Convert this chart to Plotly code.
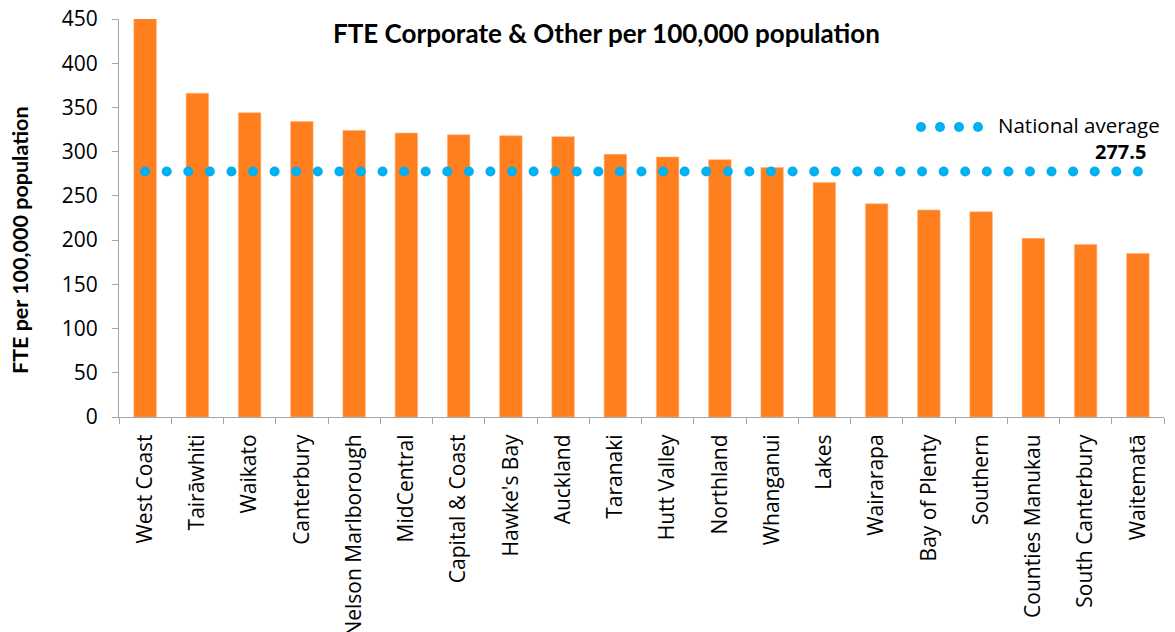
import numpy as np
import plotly.graph_objects as go

categories = ["West Coast", "Tairāwhiti", "Waikato", "Canterbury", "Nelson Marlborough",
              "MidCentral", "Capital & Coast", "Hawke's Bay", "Auckland", "Taranaki",
              "Hutt Valley", "Northland", "Whanganui", "Lakes", "Wairarapa",
              "Bay of Plenty", "Southern", "Counties Manukau", "South Canterbury", "Waitematā"]
fte_values = [470, 366, 344, 334, 324, 321, 319, 318, 317, 297,
              294, 291, 282, 265, 241, 234, 232, 202, 195, 185]
national_average = 277.5
y_ticks = [0, 50, 100, 150, 200, 250, 300, 350, 400, 450]

FONT = "Open Sans"
TITLE_FONT = "Lato"
BAR_COLOR = "#FF7F1E"
DOT_COLOR = "#00B0F0"
AXIS_COLOR = "#A6A6A6"

W, H = 1175, 632
PLOT_L, PLOT_R, PLOT_T, PLOT_B = 119, 1164, 19, 417  # target window pixels
ML, MR, MT, MB = PLOT_L, W - PLOT_R, PLOT_T, H - PLOT_B
PW, PH = W - ML - MR, H - MT - MB


def px_x(x):
    return (x - ML) / PW


def px_y(y):
    return (H - MB - y) / PH


n = len(categories)
dot_x = np.linspace(0, n - 1, 47)

fig = go.Figure()
fig.add_trace(go.Bar(
    x=categories, y=fte_values,
    marker=dict(color=BAR_COLOR, line=dict(color="#FFB27A", width=0.6)),
    showlegend=False, cliponaxis=True,
))
fig.add_trace(go.Scatter(
    x=dot_x, y=[national_average] * len(dot_x), xaxis="x2", mode="markers",
    marker=dict(color=DOT_COLOR, size=10, symbol="circle"),
    name="National average", showlegend=False,
))

legend_shapes = [
    dict(type="circle", xref="paper", yref="paper", xsizemode="pixel", ysizemode="pixel",
         xanchor=px_x(921 + 19 * i), yanchor=px_y(127), x0=-5, x1=5, y0=-5, y1=5,
         fillcolor=DOT_COLOR, line=dict(width=0))
    for i in range(4)
]

fig.update_layout(
    width=W, height=H,
    margin=dict(l=ML, r=MR, t=MT, b=MB),
    paper_bgcolor="white", plot_bgcolor="white",
    bargap=0.57,
    font=dict(family=FONT, color="#000000"),
    xaxis=dict(
        type="category", categoryorder="array", categoryarray=categories,
        range=[-0.5, n - 0.5], automargin=False,
        showline=True, linecolor=AXIS_COLOR, linewidth=1,
        ticks="outside", tickson="boundaries", ticklen=6, tickcolor=AXIS_COLOR,
        tickangle=-90, tickfont=dict(family=FONT, size=21, color="#000000"),
        ticklabelstandoff=8, ticklabeloverflow="allow",
        showgrid=False, zeroline=False,
    ),
    xaxis2=dict(
        overlaying="x", range=[-0.5, n - 0.5], visible=False, showgrid=False, zeroline=False,
    ),
    yaxis=dict(
        range=[0, 450], tickvals=y_ticks, automargin=False,
        showline=True, linecolor=AXIS_COLOR, linewidth=1,
        ticks="outside", ticklen=6, tickcolor=AXIS_COLOR,
        tickfont=dict(family=FONT, size=21, color="#000000"),
        ticklabelstandoff=10, ticklabeloverflow="allow",
        showgrid=False, zeroline=False,
    ),
    shapes=legend_shapes,
    annotations=[
        dict(text="<b>FTE Corporate & Other per 100,000 population</b>",
             xref="paper", yref="paper", x=px_x(606), y=px_y(33),
             xanchor="center", yanchor="middle", showarrow=False,
             font=dict(family=TITLE_FONT, size=26, color="#000000")),
        dict(text="<b>FTE per 100,000 population</b>",
             xref="paper", yref="paper", x=px_x(20), y=px_y(240), textangle=-90,
             xanchor="center", yanchor="middle", showarrow=False,
             font=dict(family=TITLE_FONT, size=21.5, color="#000000")),
        dict(text="National average",
             xref="paper", yref="paper", x=px_x(996), y=px_y(125),
             xanchor="left", yanchor="middle", showarrow=False,
             font=dict(family=FONT, size=20.5, color="#000000")),
        dict(text=f"<b>{national_average}</b>",
             xref="paper", yref="paper", x=px_x(1148), y=px_y(151),
             xanchor="right", yanchor="middle", showarrow=False,
             font=dict(family=FONT, size=20, color="#000000")),
    ],
)

fig.write_html("out.html",
               config={"displayModeBar": False},
               post_script="document.body.style.margin='0';document.body.style.overflow='hidden';")
